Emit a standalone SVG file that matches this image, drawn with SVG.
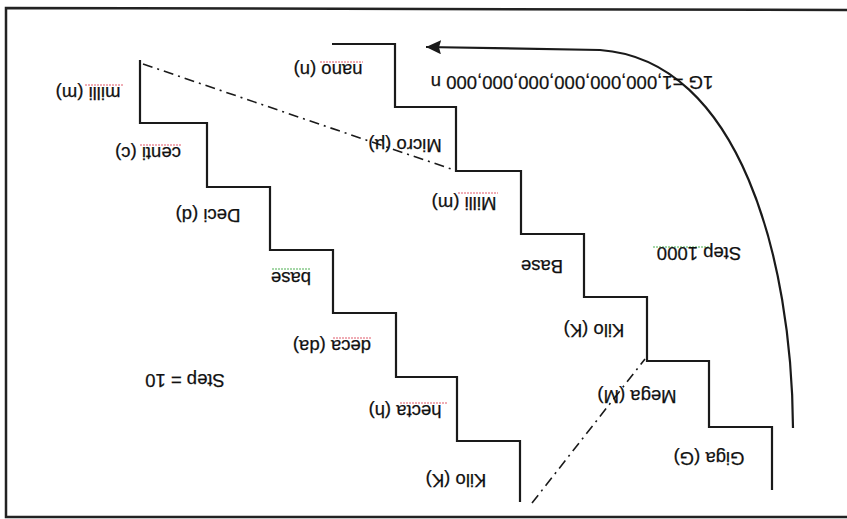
<svg xmlns="http://www.w3.org/2000/svg" width="847" height="519" viewBox="0 0 847 519">
<style>
.frame{fill:none;stroke:#222;stroke-width:2.5}
.stair{fill:none;stroke:#1a1a1a;stroke-width:2.2;stroke-linejoin:miter}
.dd{fill:none;stroke:#1a1a1a;stroke-width:1.6;stroke-dasharray:10 5 2 5}
.arc{fill:none;stroke:#1a1a1a;stroke-width:2.2}
.lbl{font-family:'Liberation Sans', Arial, sans-serif;font-size:18.5px;fill:#111;stroke:#111;stroke-width:0.25;text-anchor:middle;dominant-baseline:central}
.sq-r{stroke:#e05a6a;stroke-width:1;stroke-dasharray:2 1;fill:none}
.sq-g{stroke:#4caf50;stroke-width:1;stroke-dasharray:2 1;fill:none}
</style>
<defs>
<marker id="ah" markerWidth="16" markerHeight="14" refX="15" refY="7" orient="auto" markerUnits="userSpaceOnUse">
<polygon points="0,0 15,7 0,14 2,7" fill="#1a1a1a"/>
</marker>
</defs>
<rect width="847" height="519" fill="#fff"/>
<path class="frame" d="M847,10 L6,8 L6,517 L847,517"/>
<g id="connectors">
<path id="stair-10" class="stair" d="M140,60 L140,123 L207,123 L207,187 L270,187 L270,250 L333,250 L333,313 L396,313 L396,377 L457,377 L457,441 L520,441 L520,502"/>
<path id="stair-1000" class="stair" d="M332,44 L395,44 L395,107 L456,107 L456,171 L521,171 L521,234 L584,234 L584,297 L647,297 L647,361 L709,361 L709,427 L772,427 L772,490"/>
<path id="arrow-1G" class="arc" d="M793,428 C792,260 740,60 600,50 L426,47" marker-end="url(#ah)"/>
<path id="dd-top" class="dd" d="M143,64 L454,170"/>
<path id="dd-bottom" class="dd" d="M532,503 L645,359"/>
</g>
<g id="spellcheck">
<path class="sq-r" d="M85,85 H123"/>
<path class="sq-r" d="M140,145 H182"/>
<path class="sq-r" d="M320,62 H363"/>
<path class="sq-r" d="M458,193 H498"/>
<path class="sq-r" d="M333,338 H372"/>
<path class="sq-r" d="M400,403 H447"/>
<path class="sq-g" d="M272,269 H310"/>
<path class="sq-g" d="M653,247 H712"/>
</g>
<g id="labels" font-family="Liberation Sans, Arial, sans-serif" font-size="18.5" fill="#111" text-anchor="middle" dominant-baseline="central">
<g id="n-milli-l"><text class="lbl" x="88" y="93" transform="rotate(180 88 93)">milli (m)</text></g>
<g id="n-centi"><text class="lbl" x="148" y="153" transform="rotate(180 148 153)">centi (c)</text></g>
<g id="n-deci"><text class="lbl" x="208" y="215" transform="rotate(180 208 215)">Deci (d)</text></g>
<g id="n-base-l"><text class="lbl" x="291" y="278" transform="rotate(180 291 278)">base</text></g>
<g id="n-deca"><text class="lbl" x="332" y="346" transform="rotate(180 332 346)">deca (da)</text></g>
<g id="n-hecta"><text class="lbl" x="405" y="411" transform="rotate(180 405 411)">hecta (h)</text></g>
<g id="n-kilo-l"><text class="lbl" x="456" y="480" transform="rotate(180 456 480)">Kilo (K)</text></g>
<g id="n-step10"><text class="lbl" x="185" y="380" transform="rotate(180 185 380)">Step = 10</text></g>
<g id="n-nano"><text class="lbl" x="328" y="70" transform="rotate(180 328 70)">nano (n)</text></g>
<g id="n-micro"><text class="lbl" x="405" y="145" transform="rotate(180 405 145)">Micro (µ)</text></g>
<g id="n-milli-r"><text class="lbl" x="464" y="203" transform="rotate(180 464 203)">Milli (m)</text></g>
<g id="n-base-r"><text class="lbl" x="542" y="266" transform="rotate(180 542 266)">Base</text></g>
<g id="n-kilo-r"><text class="lbl" x="594" y="330" transform="rotate(180 594 330)">Kilo (K)</text></g>
<g id="n-mega"><text class="lbl" x="637" y="396" transform="rotate(180 637 396)">Mega (M)</text></g>
<g id="n-giga"><text class="lbl" x="709" y="458" transform="rotate(180 709 458)">Giga (G)</text></g>
<g id="n-step1000"><text class="lbl" x="699" y="253" transform="rotate(180 699 253)">Step  1000</text></g>
<g id="n-1g"><text class="lbl" x="572" y="82" transform="rotate(180 572 82)">1G =1,000,000,000,000,000,000 n</text></g>
</g>
</svg>
